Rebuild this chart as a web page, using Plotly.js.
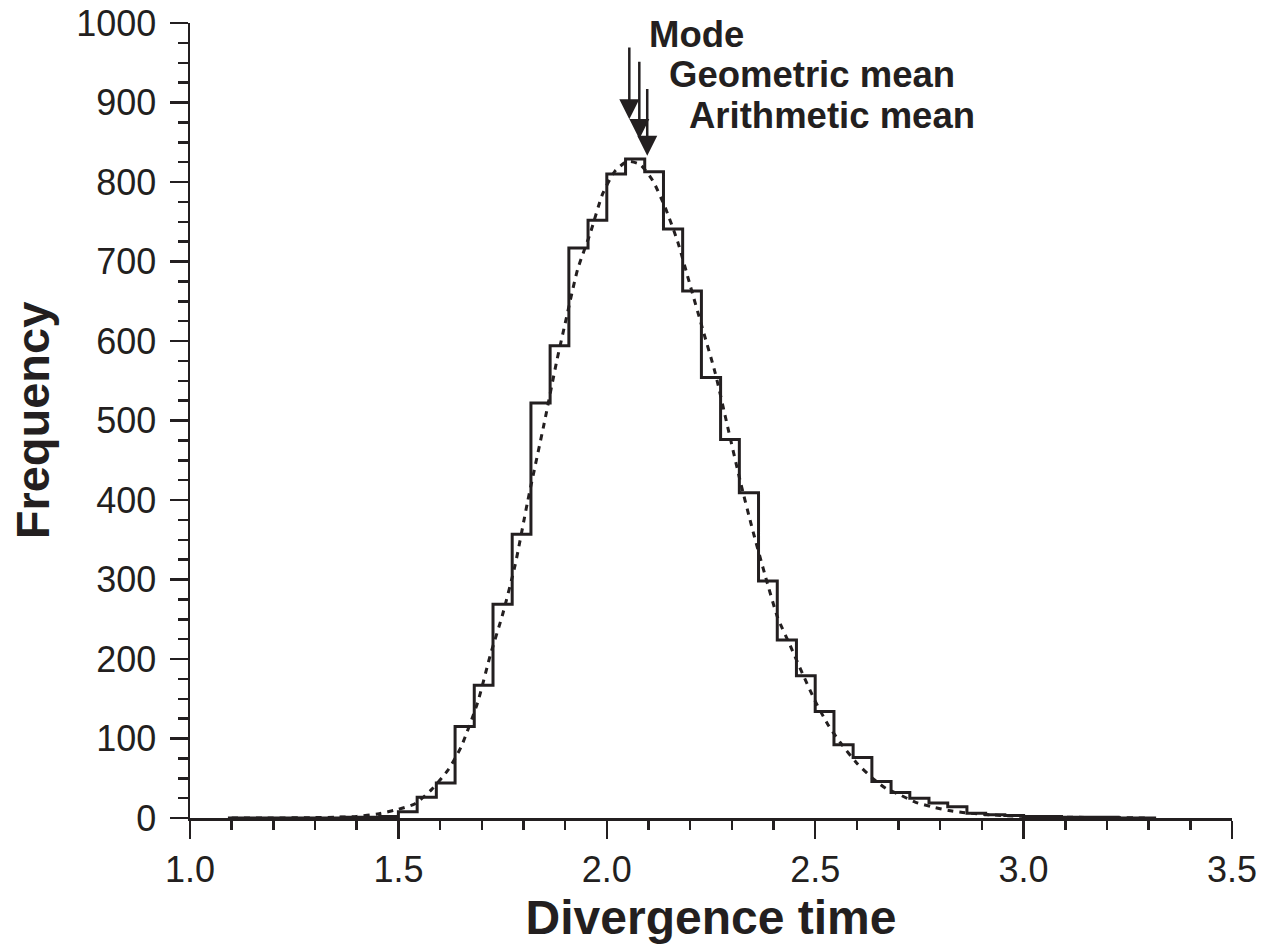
<!DOCTYPE html>
<html>
<head>
<meta charset="utf-8">
<script src="https://cdn.plot.ly/plotly-3.0.1.min.js"></script>
<style>
  html, body { margin: 0; padding: 0; background: #ffffff; }
  #chart { width: 1267px; height: 948px; }
</style>
</head>
<body>
<div id="chart"></div>
<script>
// ---- Data ----
// Histogram bin left edges (bin width ≈ 0.0455) and the frequency of each bin
const binLeft = [1.091, 1.136, 1.182, 1.227, 1.273, 1.318, 1.364, 1.409, 1.455, 1.500,
                 1.545, 1.591, 1.636, 1.682, 1.727, 1.773, 1.818, 1.864, 1.909, 1.955,
                 2.000, 2.045, 2.091, 2.136, 2.182, 2.227, 2.273, 2.318, 2.364, 2.409,
                 2.455, 2.500, 2.545, 2.591, 2.636, 2.682, 2.727, 2.773, 2.818, 2.864,
                 2.909, 2.955, 3.000, 3.045, 3.091, 3.136, 3.182, 3.227, 3.273];
const binCount = [0, 0, 0, 0, 0, 0, 1, 1, 2, 8,
                  26, 44, 115, 167, 269, 357, 522, 594, 717, 752,
                  810, 829, 813, 741, 663, 554, 476, 409, 298, 224,
                  179, 134, 92, 76, 46, 32, 25, 19, 14, 6,
                  4, 3, 2, 2, 1, 1, 1, 0, 0];
const lastBinRight = 3.318;

// Fitted (dotted) curve
const fitX = [1.10, 1.20, 1.30, 1.35, 1.40, 1.45, 1.50, 1.54, 1.58, 1.62, 1.65, 1.69,
              1.72, 1.75, 1.78, 1.81, 1.85, 1.88, 1.90, 1.93, 1.96, 1.99, 2.02, 2.05,
              2.08, 2.11, 2.14, 2.17, 2.20, 2.23, 2.26, 2.29, 2.32, 2.35, 2.38, 2.41,
              2.44, 2.47, 2.50, 2.53, 2.56, 2.60, 2.64, 2.67, 2.70, 2.74, 2.78, 2.82,
              2.86, 2.92, 3.00, 3.10, 3.20, 3.30];
const fitY = [0, 0, 0.5, 1, 2, 5, 11, 18, 36, 61, 89, 145,
              204, 256, 318, 398, 497, 575, 622, 690, 735, 785, 814, 826,
              822, 802, 768, 725, 670, 615, 560, 492, 424, 362, 305, 252,
              217, 181, 147, 118, 95, 69, 49, 37, 30, 20, 14, 9.5,
              6.5, 4, 2, 1, 0.5, 0];

// Summary statistics marked with arrows
const statNames = ['Mode', 'Geometric mean', 'Arithmetic mean'];
const statX = [2.054, 2.078, 2.097];

// Axis tick labels
const xTickVals = [1.0, 1.5, 2.0, 2.5, 3.0, 3.5];
const xTickText = ['1.0', '1.5', '2.0', '2.5', '3.0', '3.5'];
const yTickVals = [0, 100, 200, 300, 400, 500, 600, 700, 800, 900, 1000];

// ---- Drawing ----
const ink = '#231f20';
const fam = '"Liberation Sans", Arial, Helvetica, sans-serif';

const histX = binLeft.concat([lastBinRight]);
const histY = binCount.concat([binCount[binCount.length - 1]]);

const traces = [
  {
    type: 'scatter', mode: 'lines',
    x: fitX, y: fitY,
    line: { color: ink, width: 3, dash: '6px,6px', shape: 'spline', smoothing: 0.6 },
    hoverinfo: 'skip'
  },
  {
    type: 'scatter', mode: 'lines',
    x: histX, y: histY,
    line: { color: ink, width: 3, shape: 'hv' },
    hoverinfo: 'skip'
  }
];

// arrow geometry (tail/tip heights in frequency units) and label placement
const arrowTail = [971, 953, 919];
const arrowTip = [879, 854, 833];
const labelX = [2.097, 2.145, 2.193];
const labelY = [985, 935, 884];

const annotations = [];
for (let i = 0; i < statNames.length; i++) {
  annotations.push({
    x: statX[i], y: arrowTip[i], xref: 'x', yref: 'y',
    ax: statX[i], ay: arrowTail[i], axref: 'x', ayref: 'y',
    text: '', showarrow: true,
    arrowhead: 2, arrowsize: 1.6, arrowwidth: 2.5, arrowcolor: ink, standoff: 0
  });
  annotations.push({
    x: labelX[i], y: labelY[i], xref: 'x', yref: 'y',
    text: '<b>' + statNames[i] + '</b>', showarrow: false,
    xanchor: 'left', yanchor: 'middle',
    font: { family: fam, size: 36.5, color: ink }
  });
}

const layout = {
  width: 1267, height: 948,
  margin: { l: 190, r: 35, t: 23, b: 130 },
  paper_bgcolor: '#ffffff', plot_bgcolor: '#ffffff',
  showlegend: false,
  xaxis: {
    range: [1.0, 3.5], autorange: false,
    tickmode: 'array', tickvals: xTickVals, ticktext: xTickText,
    ticks: 'outside', ticklen: 18, tickwidth: 2.5, tickcolor: ink,
    showline: true, linewidth: 2.5, linecolor: ink,
    showgrid: false, zeroline: false,
    minor: { dtick: 0.1, tick0: 1.0, ticks: 'outside', ticklen: 9, tickwidth: 2.5, tickcolor: ink, showgrid: false },
    tickfont: { family: fam, size: 36, color: ink },
    ticklabelstandoff: 0,
    title: { text: '<b>Divergence time</b>', font: { family: fam, size: 48, color: ink }, standoff: 12 }
  },
  yaxis: {
    range: [0, 1000], autorange: false,
    tickmode: 'array', tickvals: yTickVals,
    ticks: 'outside', ticklen: 18, tickwidth: 2.5, tickcolor: ink,
    showline: true, linewidth: 2.5, linecolor: ink,
    showgrid: false, zeroline: false,
    minor: { dtick: 25, tick0: 0, ticks: 'outside', ticklen: 10, tickwidth: 2.5, tickcolor: ink, showgrid: false },
    tickfont: { family: fam, size: 36, color: ink },
    ticklabelstandoff: 6,
    title: { text: '<b>Frequency</b>', font: { family: fam, size: 47, color: ink }, standoff: 12 }
  },
  annotations: annotations
};

Plotly.newPlot('chart', traces, layout, { displayModeBar: false, staticPlot: true });
</script>
</body>
</html>
